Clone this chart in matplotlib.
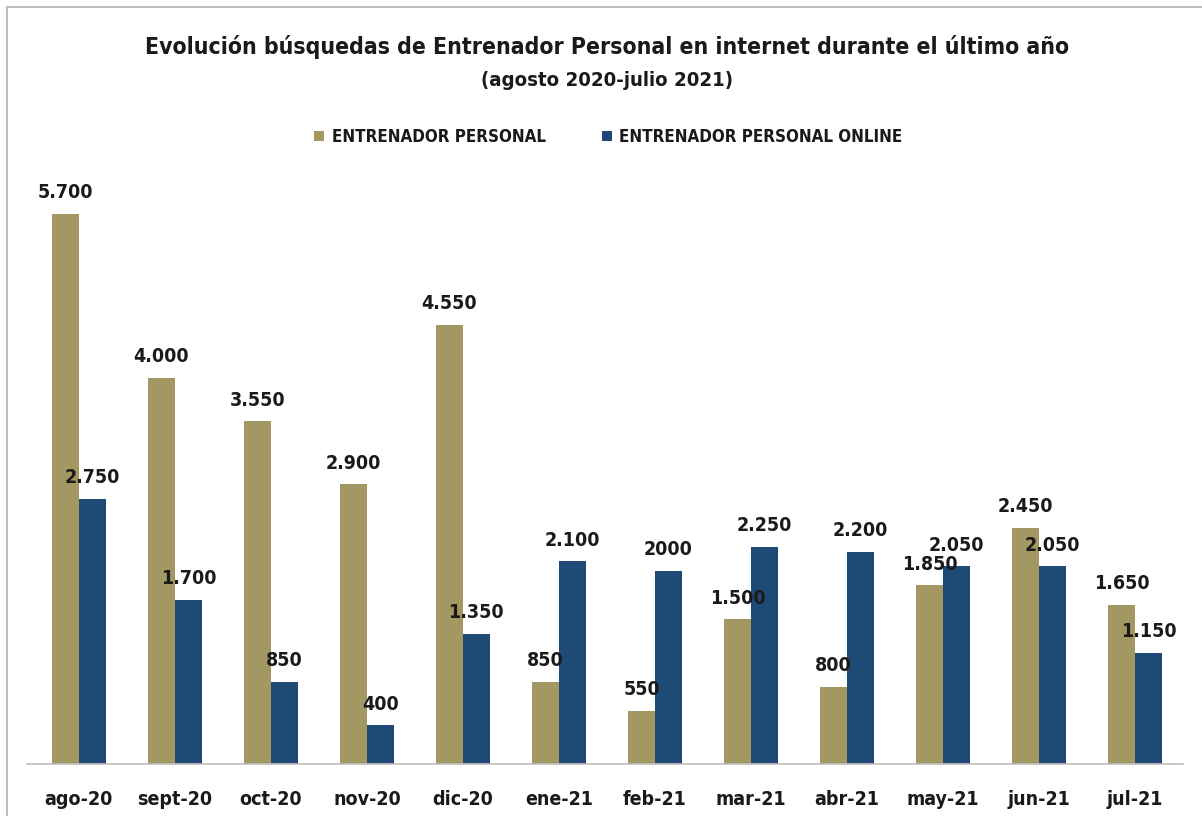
import matplotlib
matplotlib.use("Agg")
import matplotlib.pyplot as plt
import numpy as np
from matplotlib.patches import Rectangle
from matplotlib import font_manager as fm

months = ["ago-20", "sept-20", "oct-20", "nov-20", "dic-20", "ene-21",
          "feb-21", "mar-21", "abr-21", "may-21", "jun-21", "jul-21"]
personal = [5700, 4000, 3550, 2900, 4550, 850, 550, 1500, 800, 1850, 2450, 1650]
online = [2750, 1700, 850, 400, 1350, 2100, 2000, 2250, 2200, 2050, 2050, 1150]
personal_labels = ["5.700", "4.000", "3.550", "2.900", "4.550", "850", "550",
                   "1.500", "800", "1.850", "2.450", "1.650"]
online_labels = ["2.750", "1.700", "850", "400", "1.350", "2.100", "2000",
                 "2.250", "2.200", "2.050", "2.050", "1.150"]

plt.rcParams["font.family"] = ["DejaVu Sans"]
plt.rcParams["font.stretch"] = "condensed"

def fp(size):
    return fm.FontProperties(family="DejaVu Sans", stretch="condensed", weight="bold", size=size)

tan = "#A39862"
blue = "#1E4A75"
dark = "#1a1a1a"

fig = plt.figure(figsize=(12.02, 8.16), dpi=100)
ax = fig.add_axes([0.0225, 0.0637, 0.9617, 0.7096])

x = np.arange(len(months))
w = 0.28
b1 = ax.bar(x - w / 2, personal, w, color=tan, label="ENTRENADOR PERSONAL")
b2 = ax.bar(x + w / 2, online, w, color=blue, label="ENTRENADOR PERSONAL ONLINE")

for rect, lab in zip(b1, personal_labels):
    ax.text(rect.get_x() + rect.get_width() / 2, rect.get_height() + 120, lab,
            ha="center", va="bottom", fontproperties=fp(14), color=dark)
for rect, lab in zip(b2, online_labels):
    ax.text(rect.get_x() + rect.get_width() / 2, rect.get_height() + 120, lab,
            ha="center", va="bottom", fontproperties=fp(14), color=dark)

ax.set_xlim(-0.54, 11.5)
ax.set_ylim(0, 6000)
ax.set_xticks(x)
ax.set_xticklabels(months)
for t in ax.get_xticklabels():
    t.set_fontproperties(fp(14))
    t.set_color(dark)
ax.tick_params(axis="x", length=0, pad=19)
ax.set_yticks([])
for s in ["top", "right", "left"]:
    ax.spines[s].set_visible(False)
ax.spines["bottom"].set_color("#BFBFBF")
ax.spines["bottom"].set_linewidth(1.2)

fig.text(0.505, 0.942, "Evolución búsquedas de Entrenador Personal en internet durante el último año",
         ha="center", va="center", fontproperties=fp(16.5), color=dark)
fig.text(0.505, 0.901, "(agosto 2020-julio 2021)",
         ha="center", va="center", fontproperties=fp(14.6), color=dark)

leg = fig.legend(handles=[b1, b2], loc="center", bbox_to_anchor=(0.506, 0.832),
                 ncol=2, frameon=False, handlelength=0.6, handleheight=0.6,
                 handletextpad=0.45, columnspacing=3.3, prop=fp(12.2))
for t in leg.get_texts():
    t.set_color(dark)

fig.patches.append(Rectangle((0.006, -0.01), 1.0, 1.001, transform=fig.transFigure,
                             fill=False, edgecolor="#BDBDBD", linewidth=1.5))

fig.savefig("out.png", dpi=100)
